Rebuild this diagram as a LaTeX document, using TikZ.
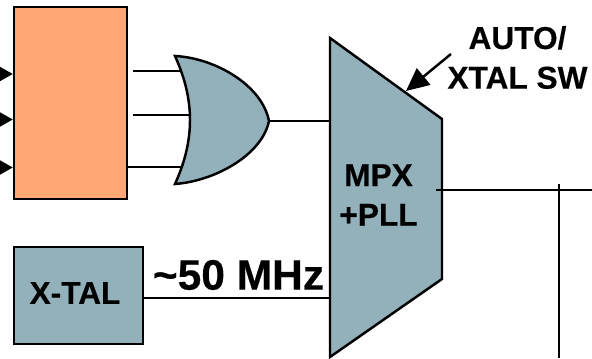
\documentclass[tikz,border=0pt]{standalone}
\usepackage{fontspec}
\setmainfont[BoldFeatures={FakeBold=0.4}]{Liberation Sans}
\usetikzlibrary{arrows.meta}
\definecolor{blockorange}{HTML}{FFA875}
\definecolor{blockblue}{HTML}{92B1BB}
\begin{document}
\begin{tikzpicture}[scale=0.2]
            \tikzstyle{every node}+=[inner sep=0pt]
            \tikzstyle{block}=[draw=black,line width=1.4pt]
            \tikzstyle{wire}=[black,line width=1.2pt]
            \tikzstyle{label}=[font=\fontsize{18}{22.6}\selectfont\bfseries,align=center]
            \useasboundingbox (0,0) rectangle (59.2,-35.8);
            % input block and its three inputs
            \node (sel) [block,fill=blockorange,minimum width=2.26cm,minimum height=3.84cm] at (7.05,-10.3) {};
            \coordinate (ina) at (-1,-7.4);
            \coordinate (inb) at (-1,-11.95);
            \coordinate (inc) at (-1,-16.75);
            \draw [wire,-{Triangle[length=10pt,width=11pt]}] (ina) -- (sel.west |- ina);
            \draw [wire,-{Triangle[length=10pt,width=11pt]}] (inb) -- (sel.west |- inb);
            \draw [wire,-{Triangle[length=10pt,width=11pt]}] (inc) -- (sel.west |- inc);
            % or gate
            \coordinate (ortop) at (17.5,-5.6);
            \coordinate (orbot) at (17.5,-18.4);
            \coordinate (orout) at (26.9,-12.1);
            \coordinate (la) at (13.3,-7.1);
            \coordinate (lae) at (18.2,-7.1);
            \coordinate (lb) at (13.3,-11.48);
            \coordinate (lbe) at (19,-11.48);
            \coordinate (lce) at (18.2,-16.7);
            \draw [wire] (la) -- (lae);
            \draw [wire] (lb) -- (lbe);
            \draw [wire] (sel.east |- lce) -- (lce);
            \draw [block,fill=blockblue] (ortop) .. controls (21.5,-5.8) and (26.2,-8.5) .. (orout)
                .. controls (26.2,-15.5) and (21.5,-18.1) .. (orbot)
                .. controls (19.5,-14) and (19.5,-10) .. (ortop) -- cycle;
            % multiplexer
            \coordinate (mpxa) at (33,-3.8);
            \coordinate (mpxb) at (44.2,-11.9);
            \coordinate (mpxc) at (44.2,-27.9);
            \coordinate (mpxd) at (33,-35.7);
            \draw [wire] (orout) -- (orout -| mpxa);
            \draw [block,fill=blockblue] (mpxa) -- (mpxb) -- (mpxc) -- (mpxd) -- cycle;
            \node (mpx) [label] at (37.85,-19.5) {MPX\\+PLL};
            % crystal
            \node (xtal) [block,fill=blockblue,minimum width=2.58cm,minimum height=1.94cm] at (7.85,-29.55) {};
            \node (xtaltext) [label] at (7.5,-29.3) {X-TAL};
            \coordinate (xtalin) at (33,-29.8);
            \draw [wire] (xtal.east |- xtalin) -- (xtalin);
            \node (freq) [font=\fontsize{24.2}{28}\selectfont\bfseries] at (23.85,-27.5) {\char`\~50 MHz};
            % switch label
            \node (sw) [label] at (51.75,-5.75) {AUTO/\\XTAL SW};
            \coordinate (swa) at (45.1,-5.4);
            \coordinate (swb) at (40.6,-9.1);
            \draw [wire,line width=1.4pt,-{Triangle[length=13pt,width=12pt]}] (swa) -- (swb);
            % output
            \coordinate (outa) at (43.6,-19);
            \coordinate (outb) at (59.2,-19);
            \coordinate (downa) at (55.9,-18.4);
            \coordinate (downb) at (55.9,-35.8);
            \draw [wire] (outa) -- (outb);
            \draw [wire] (downa) -- (downb);
            \end{tikzpicture}
\end{document}
